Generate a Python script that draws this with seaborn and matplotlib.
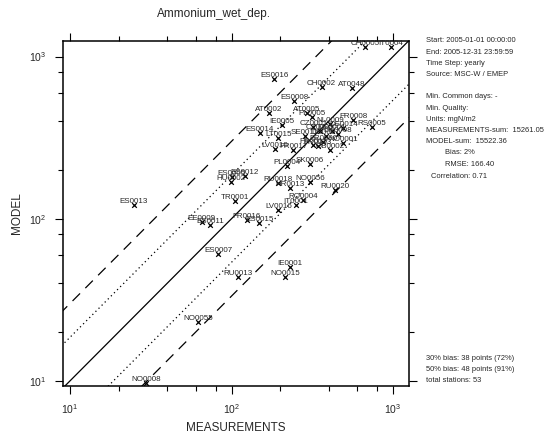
import numpy as np
import pandas as pd
import matplotlib
matplotlib.use("Agg")
import matplotlib.pyplot as plt
import matplotlib.ticker as mticker
import seaborn as sns

stations = ['CH0005', 'IT0004', 'ES0016', 'CH0002', 'AT0048', 'ES0008', 'AT0002', 'AT0005',
            'PL0005', 'IE0005', 'ES0014', 'LT0015', 'SE0011', 'CZ0001', 'NL0009', 'DE0014',
            'FR0008', 'RS0005', 'FR0090', 'NO0001', 'LV0010', 'FR0017', 'GB0002', 'FR0015',
            'PL0004', 'SK0006', 'ES0012', 'ES0005', 'HU0002', 'RU0018', 'HR0013', 'NO0056',
            'RU0020', 'TR0001', 'IT0001', 'RO0004', 'LV0016', 'ES0013', 'EE0009', 'ES0011',
            'FR0016', 'ES0015', 'ES0007', 'IE0001', 'NO0015', 'RU0013', 'NO0055', 'NO0008',
            'CZ0003', 'DE0001', 'DE0007', 'DK0008', 'FR0013']
measured = [671, 972, 184, 361, 557, 245, 171, 292,
            314, 205, 150, 195, 285, 321, 407, 492,
            568, 738, 369, 490, 186, 241, 407, 320,
            220, 306, 121, 100, 99, 195, 230, 306,
            438, 105, 251, 277, 195, 24.9, 65.4, 73.6,
            124, 149, 82.8, 230, 214, 110, 62.3, 29.6,
            353, 419, 385, 456, 343]
modelled = [1153, 1143, 724, 653, 638, 533, 451, 448,
            423, 379, 337, 316, 324, 370, 384, 361,
            407, 370, 299, 293, 268, 265, 265, 285,
            211, 218, 184, 180, 169, 167, 154, 169,
            150, 129, 122, 130, 113, 122, 95.8, 91.4,
            98.2, 94.5, 60.3, 50.1, 43.9, 43.9, 23.1, 9.64,
            348, 348, 324, 333, 281]

info_top = ['Start: 2005-01-01 00:00:00', 'End: 2005-12-31 23:59:59', 'Time Step: yearly',
            'Source: MSC-W / EMEP']
info_mid = ['Min. Common days: -', 'Min. Quality:', 'Units: mgN/m2',
            'MEASUREMENTS-sum:  15261.05', 'MODEL-sum:  15522.36']
info_stats = ['Bias: 2%', 'RMSE: 166.40', 'Correlation: 0.71']
info_bottom = ['30% bias: 38 points (72%)', '50% bias: 48 points (91%)', 'total stations: 53']

df = pd.DataFrame({'station': stations, 'MEASUREMENTS': measured, 'MODEL': modelled})

sns.set_style('ticks')
plt.rcParams['font.family'] = ['Liberation Sans', 'DejaVu Sans']
plt.rcParams['mathtext.fontset'] = 'custom'
plt.rcParams['mathtext.rm'] = 'Liberation Sans'

W, H = 544, 438
fig = plt.figure(figsize=(W / 100, H / 100), dpi=100)
ax = fig.add_axes([63 / W, 52 / H, 346 / W, 345.5 / H])

xlim = (9.05, 1256)
ylim = (9.3, 1256)
xl = np.array([5, 3000])
# 1:1 line, 30% bias band (factor 1.3/0.7) and 50% bias band (factor 1.5/0.5)
ax.plot(xl, xl, color='black', lw=0.9)
for f in [1.3 / 0.7, 0.7 / 1.3]:
    ax.plot(xl, xl * f, color='black', lw=0.9, linestyle=(0, (1, 2.5)))
for f in [3.0, 1 / 3.0]:
    ax.plot(xl, xl * f, color='black', lw=0.9, linestyle=(0, (8.5, 6)))

sns.scatterplot(data=df, x='MEASUREMENTS', y='MODEL', marker='x', color='black',
                s=11, linewidth=0.9, ax=ax, zorder=3)
for _, r in df.iterrows():
    ax.annotate(r['station'], (r['MEASUREMENTS'], r['MODEL']), xytext=(0, 2.5),
                textcoords='offset points', ha='center', va='center', fontsize=5.8)

ax.set_xscale('log')
ax.set_yscale('log')
ax.set_xlim(*xlim)
ax.set_ylim(*ylim)
ax.xaxis.set_minor_locator(mticker.LogLocator(base=10, subs=[2, 4, 6, 8]))
ax.yaxis.set_minor_locator(mticker.LogLocator(base=10, subs=[2, 4, 6, 8]))
ax.xaxis.set_minor_formatter(mticker.NullFormatter())
ax.yaxis.set_minor_formatter(mticker.NullFormatter())
ax.tick_params(which='both', direction='out', top=True, right=True, color='black', width=0.8)
ax.tick_params(which='major', length=6, labelsize=7.5, pad=6)
ax.tick_params(which='minor', length=3.5)
for sp in ax.spines.values():
    sp.set_linewidth(1.1)
    sp.set_color('black')
ax.set_xlabel('MEASUREMENTS', fontsize=8.5, labelpad=4)
ax.set_ylabel('MODEL', fontsize=8.5, labelpad=4)

fig.text(214 / W, 1 - 14 / H, 'Ammonium_wet_dep.', ha='center', va='center', fontsize=8.5)

def put(lines, x0, y0, step=11.2):
    for i, t in enumerate(lines):
        fig.text(x0 / W, 1 - (y0 + i * step) / H, t, ha='left', va='center', fontsize=5.4)

put(info_top, 426, 41)
put(info_mid, 426, 97)
fig.text(445 / W, 1 - 153 / H, info_stats[0], va='center', fontsize=5.4)
fig.text(445 / W, 1 - 165 / H, info_stats[1], va='center', fontsize=5.4)
fig.text(431 / W, 1 - 176 / H, info_stats[2], va='center', fontsize=5.4)
put(info_bottom, 426, 358)

fig.savefig('out.png', dpi=100)
